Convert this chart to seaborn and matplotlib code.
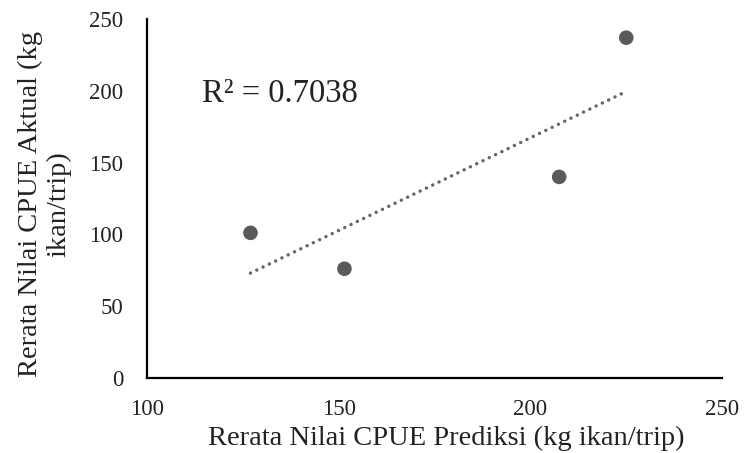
import matplotlib
matplotlib.use("Agg")
import matplotlib.pyplot as plt
import seaborn as sns
import pandas as pd

cpue_prediksi = [127, 151.5, 207.5, 225]
cpue_aktual = [101, 76, 140, 237]
x_ticks = [100, 150, 200, 250]
y_ticks = [0, 50, 100, 150, 200, 250]
r2_label = "R² = 0.7038"

df = pd.DataFrame({"pred": cpue_prediksi, "akt": cpue_aktual})

sns.set_theme(style="white")
plt.rcParams["font.family"] = ["Liberation Serif", "DejaVu Serif"]

fig = plt.figure(figsize=(7.46, 4.53), dpi=100)
ax = fig.add_axes([0.197, 0.166, 0.771, 0.792])

sns.regplot(data=df, x="pred", y="akt", ax=ax, scatter=False, ci=None,
            truncate=True,
            line_kws=dict(color="#666666", lw=2.5, linestyle=(0, (0.01, 2.0)),
                          dash_capstyle="round"))
sns.scatterplot(data=df, x="pred", y="akt", ax=ax, s=110, color="#5a5a5a",
                edgecolor="none", zorder=3)

ax.set_xlim(100, 250)
ax.set_ylim(0, 250)
ax.set_xticks(x_ticks)
ax.set_yticks(y_ticks)
ax.tick_params(axis="both", labelsize=16.5, length=0, colors="#222222")
ax.tick_params(axis="x", pad=15)
ax.tick_params(axis="y", pad=17)
for s in ["top", "right"]:
    ax.spines[s].set_visible(False)
for s in ["left", "bottom"]:
    ax.spines[s].set_color("black")
    ax.spines[s].set_linewidth(1.6)

ax.set_xlabel("")
ax.set_ylabel("")
fig.text(446 / 746, 1 - 438 / 453, "Rerata Nilai CPUE Prediksi (kg ikan/trip)",
         fontsize=20.5, color="#222222", ha="center", va="center")
fig.text(44.5 / 746, 1 - 204 / 453, "Rerata Nilai CPUE Aktual (kg\nikan/trip)",
         fontsize=20.5, color="#222222", ha="center", va="center",
         rotation=90, linespacing=1.2, multialignment="center")
ax.text(114.3, 198, r2_label, fontsize=23.5, color="#222222", va="center", ha="left")

fig.savefig("out.png", dpi=100)
